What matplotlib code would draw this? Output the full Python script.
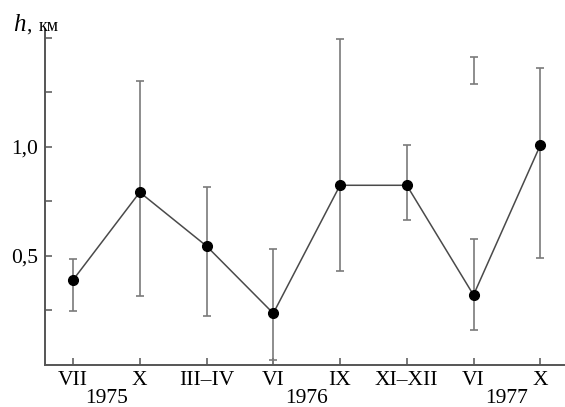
import numpy as np
import matplotlib
matplotlib.use('Agg')
import matplotlib.pyplot as plt

plt.rcParams['font.family'] = ['Liberation Serif', 'DejaVu Serif']

months = ['VII', 'X', 'III–IV', 'VI', 'IX', 'XI–XII', 'VI', 'X']
years = ['1975', '1976', '1977']
year_pos = [0.5, 3.5, 6.5]

h = [0.388, 0.791, 0.544, 0.235, 0.823, 0.823, 0.319, 1.007]
h_lo = [0.244, 0.314, 0.222, 0.021, 0.430, 0.663, 0.158, 0.488]
h_hi = [0.485, 1.300, 0.816, 0.530, 1.493, 1.007, 0.577, 1.360]

# separate bar drawn above VI 1977 with no point
extra_x = [6]
extra_lo = [1.290]
extra_hi = [1.414]

x = np.arange(len(months))
h = np.array(h)
yerr = [h - np.array(h_lo), np.array(h_hi) - h]

fig = plt.figure(figsize=(5.65, 4.07), dpi=100)
ax = fig.add_axes([0.0796, 0.1044, 0.918, 0.824])

ax.errorbar(x, h, yerr=yerr, fmt='none', ecolor='#7a7a7a', elinewidth=1.2,
            capsize=2.6, capthick=1.2, zorder=2)
ex_mid = (np.array(extra_lo) + np.array(extra_hi)) / 2
ex_err = (np.array(extra_hi) - np.array(extra_lo)) / 2
ax.errorbar(extra_x, ex_mid, yerr=ex_err, fmt='none', ecolor='#7a7a7a',
            elinewidth=1.2, capsize=2.6, capthick=1.2, zorder=2)
ax.plot(x, h, '-', color='#4a4a4a', lw=1.1, zorder=3)
ax.plot(x, h, 'o', color='black', ms=7, zorder=4)

ax.set_xlim(-0.42, 7.35)
ax.set_ylim(0, 1.54)
ax.set_xticks(x)
ax.set_xticklabels(months, fontsize=15.5)
ax.set_yticks([0.25, 0.5, 0.75, 1.0, 1.25, 1.5])
ax.set_yticklabels(['', '0,5', '', '1,0', '', ''], fontsize=15.5)
ax.tick_params(direction='in', length=5, width=1.1, color='#555555', pad=5)
ax.tick_params(axis='x', pad=5)

for s in ['top', 'right']:
    ax.spines[s].set_visible(False)
for s in ['left', 'bottom']:
    ax.spines[s].set_color('#555555')
    ax.spines[s].set_linewidth(1.4)

trans = ax.get_xaxis_transform()
for yp, yr in zip(year_pos, years):
    ax.text(yp, -0.116, yr, transform=trans, ha='center', va='baseline', fontsize=15.5)

fig.text(0.024, 0.925, 'h', style='italic', fontsize=18, ha='left', va='baseline')
fig.text(0.047, 0.925, ',', fontsize=15, ha='left', va='baseline')
fig.text(0.069, 0.925, 'км', fontsize=13, ha='left', va='baseline')

fig.savefig('out.png', dpi=100)
